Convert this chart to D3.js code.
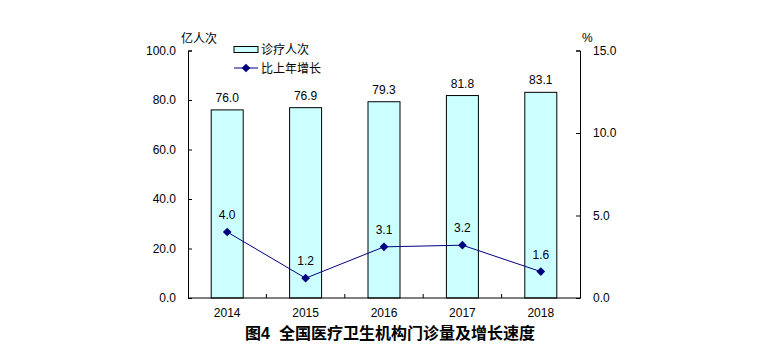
<!DOCTYPE html>
<html><head><meta charset="utf-8">
<script src="https://cdn.jsdelivr.net/npm/d3@7"></script>
<style>body{margin:0;background:#fff}svg{display:block}text{font-family:Arial,"Liberation Sans","Noto Sans CJK SC",sans-serif}</style>
</head><body><div id="c"></div>
<script>
const years = ["2014","2015","2016","2017","2018"];
const visits = [76.0, 76.9, 79.3, 81.8, 83.1];
const growth = [4.0, 1.2, 3.1, 3.2, 1.6];
const leftTicks = [0, 20, 40, 60, 80, 100];
const rightTicks = [0, 5, 10, 15];
const title = "图4  全国医疗卫生机构门诊量及增长速度";

const W = 758, H = 355;
const svg = d3.select("#c").append("svg").attr("width", W).attr("height", H);
const x0 = 188, x1 = 580, yTop = 50.5, yBot = 298;
const x = d3.scaleBand().domain(years).range([x0, x1]);
const yL = d3.scaleLinear().domain([0, 100]).range([yBot, yTop]);
const yR = d3.scaleLinear().domain([0, 15]).range([yBot, yTop]);
const font = "Arial, 'Liberation Sans', sans-serif";
const cjk = "'Noto Sans CJK SC', sans-serif";

// bars
const bw = 32;
svg.selectAll("rect.bar").data(years).join("rect")
  .attr("x", d => x(d) + x.bandwidth()/2 - bw/2)
  .attr("y", (d,i) => yL(visits[i]))
  .attr("width", bw).attr("height", (d,i) => yBot - yL(visits[i]))
  .attr("fill", "#CCFFFF").attr("stroke", "#000").attr("stroke-width", 1);

// bar labels
svg.selectAll("text.bl").data(years).join("text")
  .attr("x", d => x(d) + x.bandwidth()/2)
  .attr("y", (d,i) => yL(visits[i]) - 8)
  .attr("text-anchor", "middle").attr("font-size", 12).attr("font-family", font)
  .text((d,i) => visits[i].toFixed(1));

// axes
const gL = svg.append("g").attr("transform", `translate(${x0},0)`)
  .call(d3.axisRight(yL).tickValues(leftTicks).tickSize(4).tickFormat(d => d.toFixed(1)));
gL.select(".domain").attr("stroke", "#000");
gL.selectAll(".tick text").attr("x", -12).attr("text-anchor", "end").attr("font-size", 12).attr("font-family", font).attr("fill", "#000");

const gR = svg.append("g").attr("transform", `translate(${x1},0)`)
  .call(d3.axisLeft(yR).tickValues(rightTicks).tickSize(4).tickFormat(d => d.toFixed(1)));
gR.select(".domain").attr("stroke", "#000");
gR.selectAll(".tick text").attr("x", 13).attr("text-anchor", "start").attr("font-size", 12).attr("font-family", font).attr("fill", "#000");

// x axis
svg.append("line").attr("x1", x0).attr("x2", x1).attr("y1", yBot).attr("y2", yBot).attr("stroke", "#000");
const bounds = years.slice(1).map(d => x(d));
svg.selectAll("line.xt").data(bounds).join("line")
  .attr("x1", d => d).attr("x2", d => d).attr("y1", yBot).attr("y2", yBot - 4).attr("stroke", "#000");
svg.selectAll("text.xl").data(years).join("text")
  .attr("x", d => x(d) + x.bandwidth()/2).attr("y", 317)
  .attr("text-anchor", "middle").attr("font-size", 12).attr("font-family", font).text(d => d);

// line
const cx = (d) => x(d) + x.bandwidth()/2;
const line = d3.line().x((d,i) => cx(years[i])).y(d => yR(d));
svg.append("path").datum(growth).attr("d", line).attr("fill", "none").attr("stroke", "#000080").attr("stroke-width", 1);
const diamond = d3.symbol().type(d3.symbolDiamond2).size(48);
svg.selectAll("path.pt").data(growth).join("path")
  .attr("transform", (d,i) => `translate(${cx(years[i])},${yR(d)})`)
  .attr("d", diamond).attr("fill", "#000080");
svg.selectAll("text.gl").data(growth).join("text")
  .attr("x", (d,i) => cx(years[i])).attr("y", d => yR(d) - 13)
  .attr("text-anchor", "middle").attr("font-size", 12).attr("font-family", font)
  .text(d => d.toFixed(1));

// unit labels
svg.append("text").attr("x", 181).attr("y", 43).attr("font-size", 12).attr("font-family", cjk).text("亿人次");
svg.append("text").attr("x", 582).attr("y", 42).attr("font-size", 12).attr("font-family", font).text("%");

// legend
svg.append("rect").attr("x", 234).attr("y", 46.5).attr("width", 24).attr("height", 6)
  .attr("fill", "#CCFFFF").attr("stroke", "#000");
svg.append("text").attr("x", 261).attr("y", 53.5).attr("font-size", 12).attr("font-family", cjk).text("诊疗人次");
svg.append("line").attr("x1", 234).attr("x2", 258).attr("y1", 68).attr("y2", 68).attr("stroke", "#000080");
svg.append("path").attr("transform", "translate(246,68)").attr("d", diamond).attr("fill", "#000080");
svg.append("text").attr("x", 261).attr("y", 72.5).attr("font-size", 12).attr("font-family", cjk).text("比上年增长");

// title
svg.append("text").attr("x", 390).attr("y", 339).attr("text-anchor", "middle")
  .attr("font-size", 16).attr("font-weight", "bold").attr("font-family", cjk).style("white-space","pre").text(title);
</script></body></html>
